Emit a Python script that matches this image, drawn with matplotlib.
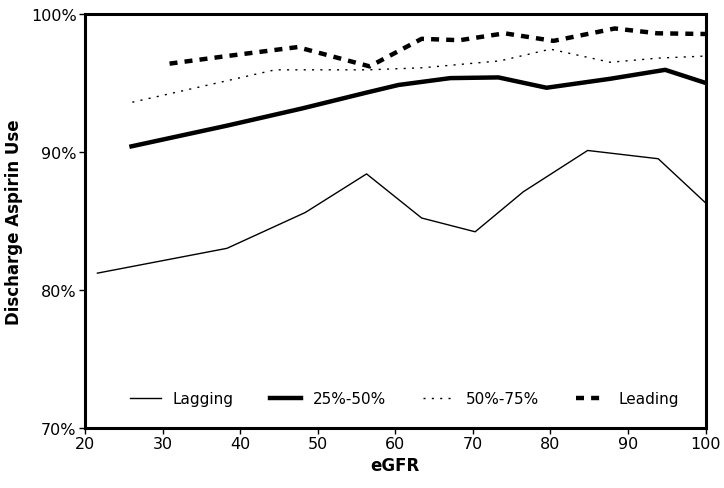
import matplotlib.pyplot as plt
from matplotlib.ticker import FuncFormatter

# eGFR positions and discharge aspirin use (%) per hospital group
lagging_x = [21.6, 38.3, 48.4, 56.3, 63.4, 70.3, 76.5, 84.8, 93.9, 100.0]
lagging_y = [81.2, 83.0, 85.6, 88.4, 85.2, 84.2, 87.1, 90.1, 89.5, 86.3]

q25_50_x = [26.0, 38.3, 48.0, 56.3, 60.4, 67.1, 73.3, 79.5, 87.7, 94.8, 100.0]
q25_50_y = [90.4, 91.9, 93.15, 94.3, 94.85, 95.35, 95.4, 94.65, 95.3, 95.95, 95.0]

q50_75_x = [26.1, 44.5, 56.5, 63.5, 73.5, 80.0, 87.7, 93.9, 100.0]
q50_75_y = [93.6, 95.95, 95.95, 96.1, 96.6, 97.45, 96.5, 96.8, 96.95]

leading_x = [30.9, 38.3, 47.4, 56.7, 63.4, 68.3, 74.1, 80.4, 88.3, 93.8, 100.0]
leading_y = [96.4, 96.95, 97.6, 96.2, 98.2, 98.1, 98.6, 98.05, 98.95, 98.6, 98.55]

fig = plt.figure(figsize=(7.24, 4.89), dpi=100)
ax = fig.add_axes([0.1174, 0.1237, 0.8571, 0.8456])

ax.plot(lagging_x, lagging_y, color='black', lw=1.0, label='Lagging')
ax.plot(q25_50_x, q25_50_y, color='black', lw=3.2, label='25%-50%')
ax.plot(q50_75_x, q50_75_y, color='black', lw=1.0, linestyle=(0, (1.5, 4.5)),
        label='50%-75%')
ax.plot(leading_x, leading_y, color='black', lw=3.2, linestyle=(0, (1.8, 1.6)),
        label='Leading')

ax.set_xlim(20, 100)
ax.set_ylim(70, 100)
ax.set_xticks(range(20, 101, 10))
ax.set_yticks([70, 80, 90, 100])
ax.yaxis.set_major_formatter(FuncFormatter(lambda v, p: f'{v:.0f}%'))

for s in ax.spines.values():
    s.set_linewidth(2.2)
ax.tick_params(direction='out', length=4, width=1, labelsize=11.5, pad=2)

ax.set_xlabel('eGFR', fontsize=12, fontweight='bold', labelpad=4)
ax.set_ylabel('Discharge Aspirin Use', fontsize=12, fontweight='bold', labelpad=6)

ax.legend(loc='lower center', bbox_to_anchor=(0.515, 0.018), ncol=4, frameon=False,
          fontsize=11, handlelength=2.0, columnspacing=2.4, handletextpad=0.8)

plt.savefig('out.png', dpi=100)
plt.close()
